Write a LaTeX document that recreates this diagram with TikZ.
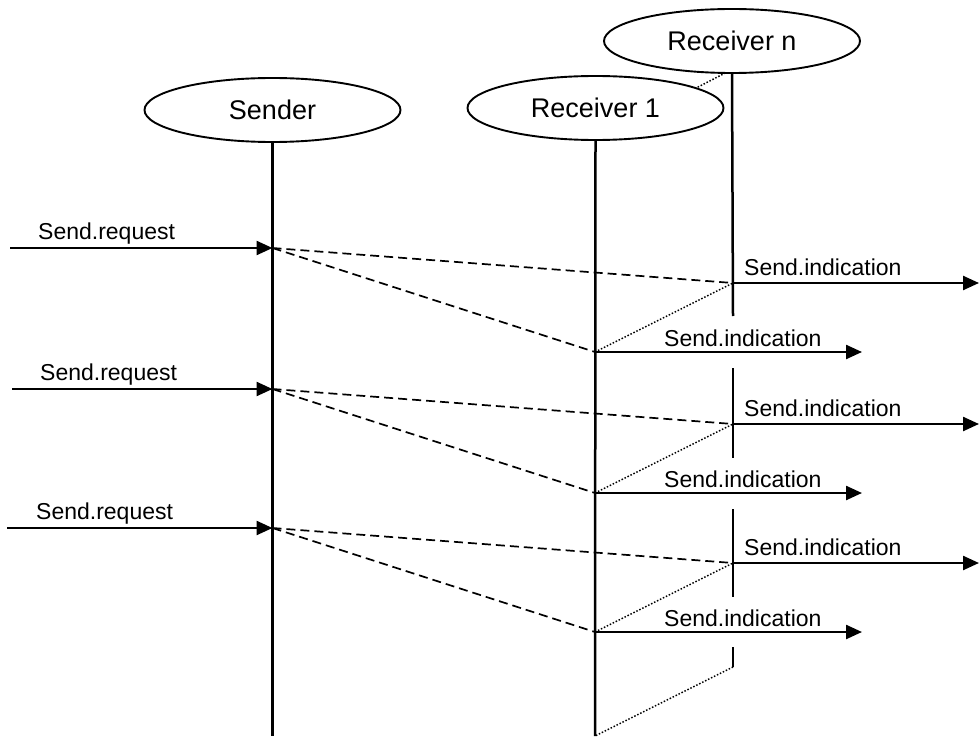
\documentclass[tikz,border=0pt]{standalone}
\usepackage{fontspec}
\setmainfont{Liberation Sans}
\usetikzlibrary{shapes.geometric,arrows.meta,backgrounds}
\begin{document}
\begin{tikzpicture}[x=1pt,y=-1pt,
  actor/.style={ellipse,draw,fill=white,line width=1.9pt,minimum width=256pt,
    minimum height=64pt,inner sep=0pt,font=\fontsize{27}{30}\selectfont},
  lifeline/.style={line width=2.5pt},
  msg/.style={line width=2.4pt,-{Triangle[length=16pt,width=14pt]}},
  fwd/.style={line width=1.7pt,dash pattern=on 9pt off 5pt},
  persp/.style={line width=1.5pt,dash pattern=on 1.5pt off 1.8pt},
  lbl/.style={font=\fontsize{23}{26}\selectfont,anchor=base west,inner sep=0pt}
]
\useasboundingbox (0,0) rectangle (979,738);

% actors
\node[actor] (snd) at (272.5,110) {Sender};
\node[actor] (r1) at (595.5,108) {Receiver 1};
\node[actor] (rn) at (732,41) {Receiver n};

% perspective link between the two receivers, hidden behind the ellipses
\coordinate (r1top) at (595,140);
\coordinate (rntop) at (733,69);
\begin{pgfonlayer}{background}
  \draw[persp] (r1top) -- (rntop);
\end{pgfonlayer}

% lifelines
\coordinate (sEnd) at (272.5,736);
\coordinate (r1End) at (595,736);
\draw[lifeline] (snd.south) -- (sEnd);
\draw[lifeline] (r1.south) -- (r1End);

% receiver n lifeline, interrupted
\coordinate (nA1) at (733,316);
\coordinate (nB0) at (733,368);
\coordinate (nB1) at (733,458);
\coordinate (nC0) at (733,509);
\coordinate (nC1) at (733,597);
\coordinate (nD0) at (733,647);
\coordinate (nD1) at (733,667);
\draw[lifeline] (rn.south) -- (nA1);
\draw[lifeline] (nB0) -- (nB1);
\draw[lifeline] (nC0) -- (nC1);
\draw[lifeline] (nD0) -- (nD1);

% message rounds
\foreach \i/\ys/\yn/\ya/\xin/\xl in {1/248/283/352/10/38, 2/389/424/493/12/40, 3/528/563/632/7/36}{
  \coordinate (in\i) at (\xin,\ys);
  \coordinate (s\i) at (272.5,\ys);
  \coordinate (n\i) at (733,\yn);
  \coordinate (no\i) at (979,\yn);
  \coordinate (a\i) at (595,\ya);
  \coordinate (ao\i) at (862,\ya);
  \draw[msg] (in\i) -- (s\i);
  \node[lbl] (req\i) at (\xl,\ys-9) {Send.request};
  \draw[fwd] (s\i) -- (n\i);
  \draw[fwd] (s\i) -- (a\i);
  \draw[persp] (a\i) -- (n\i);
  \draw[msg] (n\i) -- (no\i);
  \node[lbl] (indn\i) at (744,\yn-8) {Send.indication};
  \draw[msg] (a\i) -- (ao\i);
  \node[lbl] (ind1\i) at (664,\ya-6) {Send.indication};
}

% closing perspective line
\draw[persp] (nD1) -- (r1End);
\end{tikzpicture}
\end{document}
